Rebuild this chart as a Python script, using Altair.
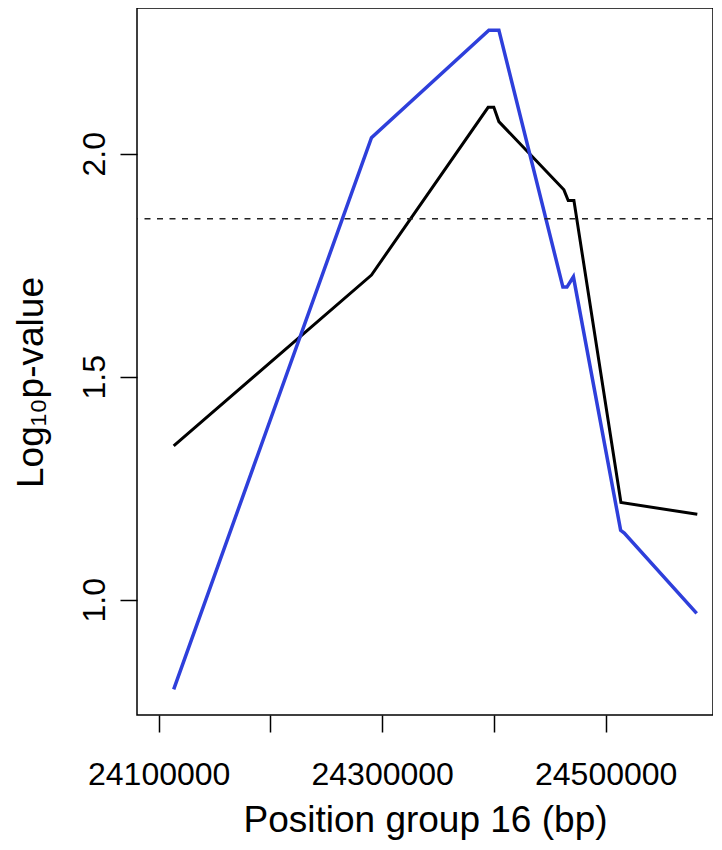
import altair as alt
import pandas as pd

# Positions (bp) and -log10 p-values
blue_pos = [24113430, 24290400, 24395450, 24404400, 24461700, 24465300,
            24471100, 24513360, 24516600, 24581400]
blue_val = [0.799, 2.036, 2.277, 2.277, 1.701, 1.701,
            1.724, 1.1556, 1.1496, 0.9695]

black_pos = [24113430, 24290400, 24394800, 24399900, 24404400, 24462600,
             24466450, 24471550, 24513620, 24581950]
black_val = [1.345, 1.728, 2.104, 2.104, 2.072, 1.919,
             1.895, 1.895, 1.218, 1.1915]

threshold = 1.854

x_ticks = [24100000, 24200000, 24300000, 24400000, 24500000]
y_ticks = [1.0, 1.5, 2.0]

blue_df = pd.DataFrame({"pos": blue_pos, "val": blue_val})
black_df = pd.DataFrame({"pos": black_pos, "val": black_val})

FONT = "Liberation Sans"

x_enc = alt.X(
    "pos:Q",
    scale=alt.Scale(domain=[24080600, 24596000], nice=False, zero=False),
    axis=alt.Axis(
        title="Position group 16 (bp)",
        values=x_ticks,
        labelExpr="datum.value % 200000 == 100000 ? format(datum.value, 'd') : ''",
        titleY=116,
        titleBaseline="alphabetic",
    ),
)
y_enc = alt.Y(
    "val:Q",
    scale=alt.Scale(domain=[0.7415, 2.3267], nice=False, zero=False),
    axis=alt.Axis(
        title="Log₁₀p-value",
        values=y_ticks,
        format=".1f",
        labelAngle=270,
        labelAlign="center",
        labelBaseline="alphabetic",
        labelPadding=16,
        titleAngle=270,
        titleX=-95,
        titleY=374,
        titleAlign="center",
        titleBaseline="alphabetic",
    ),
)

black_line = alt.Chart(black_df).mark_line(color="black", strokeWidth=3).encode(
    x=x_enc, y=y_enc, order="pos:Q"
)
blue_line = alt.Chart(blue_df).mark_line(color="#2E3FDB", strokeWidth=3.5).encode(
    x="pos:Q", y="val:Q", order="pos:Q"
)
rule = alt.Chart(pd.DataFrame({"t": [threshold]})).mark_rule(
    color="#222222", strokeWidth=1.5, strokeDash=[6, 6.5]
).encode(y="t:Q")

chart = alt.layer(black_line, blue_line, rule).properties(
    width=576,
    height=707,
    autosize=alt.AutoSizeParams(type="none"),
    padding={"left": 129, "top": 0, "right": 0, "bottom": 126},
).configure_view(
    stroke="black", strokeWidth=1.5
).configure_axis(
    grid=False,
    domain=False,
    ticks=True,
    tickSize=17,
    tickWidth=1.5,
    tickColor="black",
    labelFont=FONT,
    labelFontSize=32,
    labelColor="black",
    labelOverlap=False,
    labelFlush=False,
    titleFont=FONT,
    titleFontSize=37,
    titleFontWeight="normal",
    titleColor="black",
).configure_axisX(
    labelPadding=27,
    labelBaseline="top",
)

chart.save("out.html", embed_options={"renderer": "svg", "actions": False})
